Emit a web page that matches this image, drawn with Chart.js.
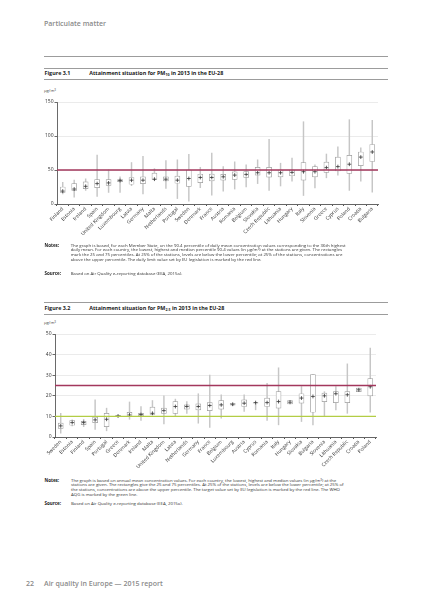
<!DOCTYPE html>
<html><head><meta charset="utf-8">
<script src="https://cdn.jsdelivr.net/npm/chart.js@4.4.0/dist/chart.umd.min.js"></script>
<style>
html,body{margin:0;padding:0;background:#fff;}
body{width:424px;height:600px;position:relative;overflow:hidden;font-family:"Open Sans","Noto Sans",sans-serif;color:#222;}
.t{position:absolute;white-space:nowrap;line-height:1;}
.hr{position:absolute;left:44px;width:344px;height:1px;background:#9c9c9c;}
.head{color:#8a8a8a;font-weight:600;font-size:7px;}
.fig{font-weight:700;font-size:5.4px;color:#1a1a1a;}
.fig sub{font-size:3.6px;vertical-align:-1px;line-height:0;}
.unit{font-size:4.2px;color:#444;}
.unit sup{font-size:3px;vertical-align:1.5px;line-height:0;}
.lbl{font-weight:700;font-size:4.5px;color:#1a1a1a;}
.note{font-size:4.35px;color:#333;line-height:4.6px;}
.note sup{font-size:3px;vertical-align:1px;line-height:0;}
.foot{color:#8a8a8a;font-weight:600;font-size:7px;}
canvas{position:absolute;}
</style></head>
<body>
<div class="t head" style="left:44px;top:19.5px;">Particulate matter</div>
<div class="hr" style="top:56px;"></div>

<div class="hr" style="top:68px;"></div>
<div class="t fig" style="left:44.5px;top:70.8px;">Figure 3.1</div>
<div class="t fig" style="left:89.3px;top:70.8px;">Attainment situation for PM<sub>10</sub> in 2013 in the EU-28</div>
<div class="hr" style="top:79px;"></div>
<div class="t unit" style="left:44px;top:89px;">µg/m<sup>3</sup></div>
<canvas id="c1" width="360" height="148" style="left:30px;top:96px;width:360px;height:148px;"></canvas>

<div class="t lbl" style="left:44.5px;top:243px;">Notes:</div>
<div class="t note" style="left:70.7px;top:242.8px;">The graph is based, for each Member State, on the 90.4 percentile of daily mean concentration values corresponding to the 36th highest<br>daily mean. For each country, the lowest, highest and median percentile 90.4 values (in µg/m<sup>3</sup>) at the stations are given. The rectangles<br>mark the 25 and 75 percentiles. At 25% of the stations, levels are below the lower percentile; at 25% of the stations, concentrations are<br>above the upper percentile. The daily limit value set by EU legislation is marked by the red line.</div>
<div class="t lbl" style="left:44.5px;top:270.5px;">Source:</div>
<div class="t note" style="left:70.7px;top:270.5px;">Based on Air Quality e-reporting database (EEA, 2015a).</div>

<div class="hr" style="top:302.2px;"></div>
<div class="t fig" style="left:44.5px;top:306.3px;">Figure 3.2</div>
<div class="t fig" style="left:89.3px;top:306.3px;">Attainment situation for PM<sub>2.5</sub> in 2013 in the EU-28</div>
<div class="hr" style="top:313.5px;"></div>
<div class="t unit" style="left:44px;top:321.3px;">µg/m<sup>3</sup></div>
<canvas id="c2" width="360" height="149" style="left:28px;top:328px;width:360px;height:149px;"></canvas>

<div class="t lbl" style="left:44.5px;top:478px;">Notes:</div>
<div class="t note" style="left:71px;top:477.8px;">The graph is based on annual mean concentration values. For each country, the lowest, highest and median values (in µg/m<sup>3</sup>) at the<br>stations are given. The rectangles give the 25 and 75 percentiles. At 25% of the stations, levels are below the lower percentile; at 25% of<br>the stations, concentrations are above the upper percentile. The target value set by EU legislation is marked by the red line. The WHO<br>AQG is marked by the green line.</div>
<div class="t lbl" style="left:44.5px;top:501.2px;">Source:</div>
<div class="t note" style="left:71px;top:501.2px;">Based on Air Quality e-reporting database (EEA, 2015a).</div>

<div class="t foot" style="left:26px;top:579.5px;">22</div>
<div class="t foot" style="left:44px;top:579.5px;">Air quality in Europe — 2015 report</div>

<script>
// ---- Figure 3.1 : PM10 (90.4 percentile of daily means, µg/m3) ----
const pm10Countries = ["Finland","Estonia","Ireland","Spain","United Kingdom","Luxembourg","Latvia","Germany","Malta","Netherlands","Portugal","Sweden","Denmark","France","Austria","Romania","Belgium","Slovakia","Czech Republic","Lithuania","Hungary","Italy","Slovenia","Greece","Cyprus","Poland","Croatia","Bulgaria"];
const pm10Min    = [15,10,20,11,17,17,27,15,36,23,8,4,24,13,19,22,25,30,20,26.5,33.5,12.5,23.5,38.5,42.5,20,33.5,17.5];
const pm10Q1     = [17,20,22.5,24,27.5,33,29,30,36,34,30.5,26,31.5,34,35,36.3,39,42.3,39.5,40,41.5,35,40,46.5,48.5,45,56.5,62.5];
const pm10Median = [19,22,26,30,31,34.5,35,35,36.5,36.5,35,37.5,39,39,40,42.5,43.5,46,46,46,46.5,47.5,47.5,53.5,55,58.5,69,76.5];
const pm10Q3     = [25,30,32.5,36,36,36,39,40,45.3,40,41,50,43.8,44,43.5,47.3,47.5,53.8,53.8,50,50,61,55,61.5,69,71.5,76.5,87.5];
const pm10Max    = [32,35,37,72,50,40,61,70,52,64,65,73,54,75,55,62,57.5,65,95,60,67.5,121,57.5,73.5,84,124,82.5,123];
const pm10Ticks  = [0,50,100,150];
const pm10LimitValue = 50;

// ---- Figure 3.2 : PM2.5 (annual mean, µg/m3) ----
const pm25Countries = ["Sweden","Estonia","Finland","Spain","Portugal","Greece","Denmark","Ireland","Malta","United Kingdom","Latvia","Netherlands","Germany","France","Belgium","Luxembourg","Austria","Cyprus","Romania","Italy","Hungary","Slovakia","Bulgaria","Slovenia","Lithuania","Czech Republic","Croatia","Poland"];
const pm25Min    = [1.8,5.4,5,3.7,3,10,8.6,8,11,6.3,10.2,11.5,6.7,4.7,9.1,15.2,12.4,13.2,8,5.9,16,7.5,5.9,10.2,13.2,11.5,22,12];
const pm25Q1     = [4.2,5.7,6,7,5,10,10,10.2,11,11.5,11.5,13.5,13.2,12.8,13.5,15.4,14.8,16.4,14.8,14,16.1,16.4,12,17.2,16.7,16.7,22,20];
const pm25Median = [5.4,7,7,8.3,8.6,10.2,10.7,10.9,11.5,12.8,14.8,14.8,14.8,15.3,15.6,15.9,16.4,16.7,16.7,17.2,16.9,18.9,19.7,20,21,20.5,22.9,24.4];
const pm25Q3     = [6.7,8,7.6,9.6,11.5,10.5,12,11.5,14.5,14,17.2,15.6,16.1,16.7,17.7,16.4,18,16.7,18.9,22,17.7,21,30.3,21.3,22,22,23.7,28.3];
const pm25Max    = [11.5,8.3,8.6,18,14,10.5,17,14.8,17.7,20,18.4,17.2,21,30,20.5,16.4,20.5,16.7,26,33.6,17.7,24.5,30.3,22,24.5,35.5,23.7,43.2];
const pm25Ticks  = [0,10,20,30,40,50];
const pm25TargetValue = 25;
const pm25WhoValue = 10;

const refLines = {
  id: 'refLines',
  afterDatasetsDraw(chart, args, opts) {
    const {ctx, chartArea, scales} = chart;
    (opts.lines || []).forEach(l => {
      const py = scales.y.getPixelForValue(l.value);
      ctx.save();
      ctx.strokeStyle = l.color;
      ctx.lineWidth = l.width;
      ctx.beginPath();
      ctx.moveTo(chartArea.left, py);
      ctx.lineTo(chartArea.right, py);
      ctx.stroke();
      ctx.restore();
    });
  }
};

function makeBoxChart(id, labels, mn, q1, med, q3, mx, ticks, lines) {
  const yMax = ticks[ticks.length - 1];
  return new Chart(document.getElementById(id), {
    data: {
      labels: labels,
      datasets: [
        { type: 'line', data: med, showLine: false, pointStyle: 'cross', pointRadius: 1.9,
          pointBorderColor: '#333', pointBorderWidth: 0.8, pointBackgroundColor: '#333', order: 1 },
        { type: 'bar', data: labels.map((_, i) => [q1[i], q3[i]]), backgroundColor: '#ffffff',
          borderColor: '#9a9a9a', borderWidth: 0.7, borderSkipped: false, barThickness: 5, grouped: false, order: 2 },
        { type: 'bar', data: labels.map((_, i) => [mn[i], mx[i]]), backgroundColor: '#c6c6c6',
          borderWidth: 0, barThickness: 0.8, grouped: false, order: 3 }
      ]
    },
    options: {
      responsive: false, animation: false,
      layout: { padding: { left: 0, right: 12, top: 6, bottom: 0 } },
      plugins: { legend: { display: false }, tooltip: { enabled: false }, refLines: { lines: lines } },
      scales: {
        x: {
          type: 'category', offset: true,
          grid: { drawOnChartArea: false, drawTicks: true, tickLength: 2, tickColor: '#555', offset: true },
          border: { color: '#444', width: 0.8 },
          ticks: { font: { family: 'Open Sans', size: 5 }, color: '#333', minRotation: 45, maxRotation: 45, autoSkip: false, padding: 0 },
          afterFit(s) { s.height = 40; }
        },
        y: {
          min: 0, max: yMax,
          afterBuildTicks(s) { s.ticks = ticks.map(v => ({ value: v })); },
          grid: { color: '#e6e6e6', lineWidth: 0.8, tickColor: '#444', tickLength: 2.5 },
          border: { color: '#444', width: 0.8 },
          ticks: { font: { family: 'Open Sans', size: 5 }, color: '#333', padding: 1 },
          afterFit(s) { s.width = 27; }
        }
      }
    },
    plugins: [refLines]
  });
}

makeBoxChart('c1', pm10Countries, pm10Min, pm10Q1, pm10Median, pm10Q3, pm10Max, pm10Ticks,
  [{ value: pm10LimitValue, color: '#a3375d', width: 1.6 }]);
makeBoxChart('c2', pm25Countries, pm25Min, pm25Q1, pm25Median, pm25Q3, pm25Max, pm25Ticks,
  [{ value: pm25TargetValue, color: '#a3375d', width: 1.3 }, { value: pm25WhoValue, color: '#b3cd45', width: 1.3 }]);
</script>
</body></html>
